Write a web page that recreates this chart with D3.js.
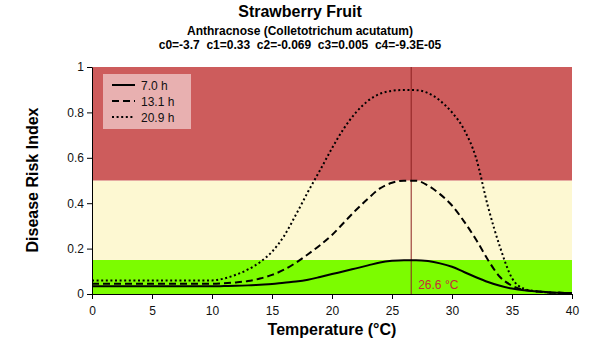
<!DOCTYPE html>
<html><head><meta charset="utf-8">
<script src="https://cdn.jsdelivr.net/npm/d3@7"></script>
<style>body{margin:0;background:#fff;}svg{display:block;font-family:"Liberation Sans",Arial,sans-serif;}</style>
</head><body><svg id="c" width="600" height="360"></svg>
<script>
const temps = d3.range(0, 41);
const risk7h  = [0.034,0.034,0.034,0.034,0.034,0.034,0.034,0.034,0.034,0.034,0.034,0.035,0.036,0.038,0.041,0.044,0.05,0.055,0.063,0.075,0.088,0.1,0.113,0.126,0.139,0.146,0.149,0.149,0.145,0.135,0.12,0.097,0.074,0.053,0.036,0.024,0.016,0.012,0.008,0.005,0.004];
const risk13h = [0.045,0.045,0.045,0.045,0.045,0.045,0.045,0.045,0.045,0.045,0.045,0.047,0.051,0.057,0.068,0.084,0.107,0.138,0.175,0.215,0.26,0.315,0.37,0.42,0.465,0.49,0.499,0.499,0.478,0.44,0.39,0.32,0.24,0.15,0.075,0.037,0.018,0.011,0.007,0.005,0.004];
const risk21h = [0.06,0.06,0.06,0.06,0.06,0.06,0.06,0.06,0.06,0.06,0.06,0.068,0.085,0.108,0.14,0.186,0.255,0.35,0.45,0.545,0.642,0.73,0.8,0.851,0.882,0.895,0.899,0.898,0.885,0.852,0.8,0.725,0.6,0.385,0.207,0.07,0.023,0.012,0.007,0.005,0.004];
const seriesNames = ["7.0 h", "13.1 h", "20.9 h"];
const bandLimits = [0, 0.15, 0.5, 1];
const optimumTemp = 26.6;
const xTicks = [0,5,10,15,20,25,30,35,40];
const yTicks = [0,0.2,0.4,0.6,0.8,1];

const svg = d3.select("#c");
const m = {l:92, r:28, t:67, b:66};
const W = 600, H = 360;
const x = d3.scaleLinear().domain([0,40]).range([m.l, W-m.r]);
const y = d3.scaleLinear().domain([0,1]).range([H-m.b, m.t]);

const bandColors = ["#7CFC00", "#FDF8D2", "#CD5C5C"];
for (let i=0;i<3;i++){
  svg.append("rect").attr("x", x(0)).attr("width", x(40)-x(0))
    .attr("y", y(bandLimits[i+1])).attr("height", y(bandLimits[i])-y(bandLimits[i+1]))
    .attr("fill", bandColors[i]);
}

// optimum line
svg.append("line").attr("x1", x(optimumTemp)).attr("x2", x(optimumTemp))
  .attr("y1", y(1)).attr("y2", y(0)).attr("stroke", "#8B2020").attr("stroke-width", 1);
svg.append("text").attr("x", x(optimumTemp)+7).attr("y", y(0)-5)
  .attr("font-size", 12).attr("fill", "#C8283C").text(optimumTemp.toFixed(1) + " °C");

const dashes = [null, "7,4", "2,2.6"];
const all = [risk7h, risk13h, risk21h];
const line = d3.line().x((d,i)=>x(temps[i])).y(d=>y(d)).curve(d3.curveMonotoneX);
all.forEach((s,k)=>{
  svg.append("path").attr("d", line(s)).attr("fill","none").attr("stroke","#000")
    .attr("stroke-width", 2).attr("stroke-dasharray", dashes[k]);
});

// axes
const xa = svg.append("g").attr("transform", `translate(0,${y(0)})`)
  .call(d3.axisBottom(x).tickValues(xTicks).tickSize(5).tickSizeOuter(0));
const ya = svg.append("g").attr("transform", `translate(${x(0)},0)`)
  .call(d3.axisLeft(y).tickValues(yTicks).tickFormat(d3.format("~g")).tickSize(5).tickSizeOuter(0));
[xa, ya].forEach(a=>{
  a.selectAll("text").attr("font-size", 12).attr("fill", "#111").attr("font-family", "Liberation Sans, Arial, sans-serif");
  a.selectAll("line,path").attr("stroke", "#000");
});
xa.selectAll("text").attr("dy", "1.05em");

// legend
const lg = svg.append("g");
lg.append("rect").attr("x", 103).attr("y", 74).attr("width", 88).attr("height", 55)
  .attr("fill", "#E8B0B0");
seriesNames.forEach((n,k)=>{
  const yy = 85 + k*16;
  lg.append("line").attr("x1", 112).attr("x2", 135).attr("y1", yy).attr("y2", yy)
    .attr("stroke", "#000").attr("stroke-width", 2).attr("stroke-dasharray", dashes[k]);
  lg.append("text").attr("x", 141).attr("y", yy+4.5).attr("font-size", 12).attr("fill","#111").text(n);
});

// titles
svg.append("text").attr("x", 300).attr("y", 17).attr("text-anchor","middle")
  .attr("font-size", 16).attr("font-weight","bold").text("Strawberry Fruit");
svg.append("text").attr("x", 300).attr("y", 35).attr("text-anchor","middle")
  .attr("font-size", 12).attr("font-weight","bold").text("Anthracnose (Colletotrichum acutatum)");
svg.append("text").attr("x", 300).attr("y", 49).attr("text-anchor","middle")
  .attr("font-size", 12).attr("font-weight","bold").attr("xml:space","preserve")
  .text("c0=-3.7  c1=0.33  c2=-0.069  c3=0.005  c4=-9.3E-05");
svg.append("text").attr("x", 332).attr("y", 335).attr("text-anchor","middle")
  .attr("font-size", 16).attr("font-weight","bold").text("Temperature (°C)");
svg.append("text").attr("transform", "translate(38,180) rotate(-90)").attr("text-anchor","middle")
  .attr("font-size", 16).attr("font-weight","bold").text("Disease Risk Index");
</script></body></html>
